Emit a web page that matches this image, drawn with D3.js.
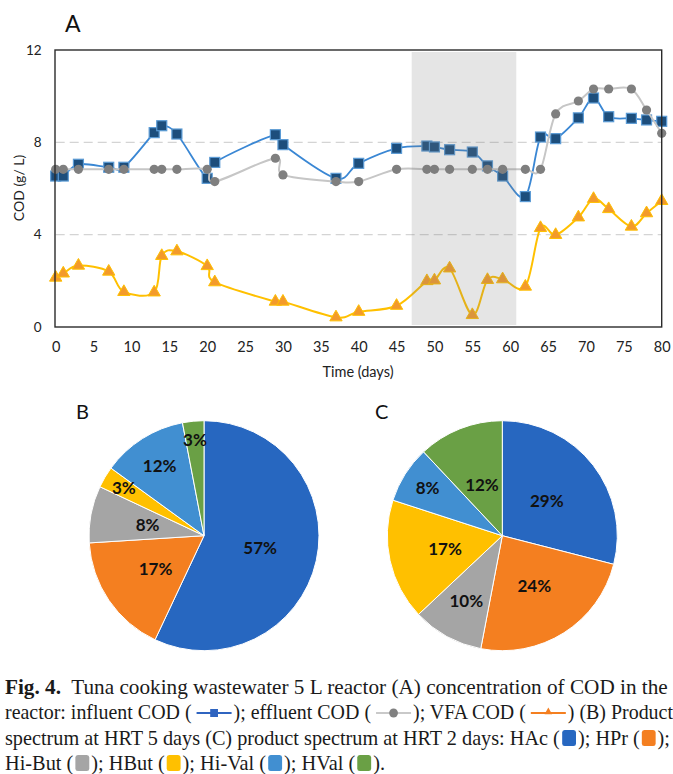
<!DOCTYPE html>
<html>
<head>
<meta charset="utf-8">
<script src="https://cdn.jsdelivr.net/npm/d3@7"></script>
<style>
  html, body { margin: 0; padding: 0; background: #fff; }
  svg { display: block; }
</style>
</head>
<body>
<svg id="fig" width="673" height="774"></svg>
<script>
// Sampling days and COD series (g/L)
const days     = [0, 1, 3, 7, 9, 13, 14, 16, 20, 21, 29, 30, 37, 40, 45, 49, 50, 52, 55, 57, 59, 62, 64, 66, 69, 71, 73, 76, 78, 80];
const influent = [6.54, 6.54, 7.05, 6.92, 6.92, 8.42, 8.72, 8.36, 6.44, 7.13, 8.33, 7.90, 6.44, 7.09, 7.74, 7.84, 7.80, 7.68, 7.58, 6.98, 6.54, 5.65, 8.23, 8.16, 9.06, 9.92, 9.11, 9.04, 8.97, 8.91];
const effluent = [6.83, 6.83, 6.83, 6.83, 6.83, 6.83, 6.83, 6.83, 6.83, 6.30, 7.31, 6.59, 6.30, 6.30, 6.83, 6.83, 6.83, 6.83, 6.83, 6.83, 6.83, 6.83, 6.83, 9.23, 9.79, 10.31, 10.31, 10.31, 9.40, 8.39];
const vfa      = [2.14, 2.32, 2.66, 2.40, 1.52, 1.50, 3.08, 3.28, 2.64, 1.94, 1.10, 1.10, 0.42, 0.66, 0.92, 1.99, 2.02, 2.54, 0.52, 2.04, 2.07, 1.75, 4.29, 3.99, 4.75, 5.55, 5.11, 4.35, 4.93, 5.46];

// Shaded operating period (days)
const shadedPeriod = [47, 60.8];

// Axis ticks
const xTicks = [0, 5, 10, 15, 20, 25, 30, 35, 40, 45, 50, 55, 60, 65, 70, 75, 80];
const yTicks = [0, 4, 8, 12];
const yGrid  = [4, 8];

// Product spectra (%)
const acids   = ["HAc", "HPr", "Hi-But", "HBut", "Hi-Val", "HVal"];
const spectrumB = [57, 17, 8, 3, 12, 3];   // HRT 5 days
const spectrumC = [29, 24, 10, 17, 8, 12]; // HRT 2 days

// Styling
const acidColors = ["#2767c0", "#f47f20", "#a5a5a5", "#ffc000", "#418fd1", "#6aa045"];
const labelRadiusB = [0.50, 0.51, 0.50, 0.81, 0.72, 0.84];
const labelRadiusC = [0.49, 0.52, 0.65, 0.51, 0.77, 0.48];

const svg = d3.select("#fig");
const sans = "Lato, 'Open Sans', sans-serif";

// ---------- Panel A: COD time course ----------
const x = d3.scaleLinear().domain([0, 80]).range([55.7, 661.7]);
const y = d3.scaleLinear().domain([0, 12]).range([327, 50]);

const gA = svg.append("g");

// dashed grid
gA.selectAll("line.grid").data(yGrid).join("line")
  .attr("class", "grid")
  .attr("x1", x.range()[0]).attr("x2", x.range()[1])
  .attr("y1", d => y(d)).attr("y2", d => y(d))
  .attr("stroke", "#d4d4d4").attr("stroke-width", 1.3)
  .attr("stroke-dasharray", "9,5");

const curve = d3.curveCardinal.tension(0);
const lineGen = vals => d3.line().curve(curve)
  .x((d, i) => x(days[i])).y(d => y(d))(vals);

// VFA COD
gA.append("path").attr("d", lineGen(vfa))
  .attr("fill", "none").attr("stroke", "#ffc000").attr("stroke-width", 2);
gA.selectAll("path.tri").data(vfa).join("path")
  .attr("class", "tri")
  .attr("d", d3.symbol().type(d3.symbolTriangle).size(66))
  .attr("transform", (d, i) => `translate(${x(days[i])},${y(d)})`)
  .attr("fill", "#f39a2b").attr("stroke", "#ffc000").attr("stroke-width", 1);

// influent COD
gA.append("path").attr("d", lineGen(influent))
  .attr("fill", "none").attr("stroke", "#3a87d4").attr("stroke-width", 1.8);
gA.selectAll("rect.sq").data(influent).join("rect")
  .attr("class", "sq")
  .attr("x", (d, i) => x(days[i]) - 5).attr("y", d => y(d) - 5)
  .attr("width", 10).attr("height", 10)
  .attr("fill", "#1d4e7c").attr("stroke", "#5b9bd5").attr("stroke-width", 1.2);

// effluent COD
gA.append("path").attr("d", lineGen(effluent))
  .attr("fill", "none").attr("stroke", "#c6c6c6").attr("stroke-width", 2);
gA.selectAll("circle.dot").data(effluent).join("circle")
  .attr("class", "dot")
  .attr("cx", (d, i) => x(days[i])).attr("cy", d => y(d)).attr("r", 4.6)
  .attr("fill", "#7f7f7f");

// shaded period drawn as a translucent band over the series
gA.append("rect")
  .attr("x", x(shadedPeriod[0])).attr("width", x(shadedPeriod[1]) - x(shadedPeriod[0]))
  .attr("y", y.range()[1] + 2).attr("height", y.range()[0] - y.range()[1] - 4)
  .attr("fill", "#7f7f7f").attr("fill-opacity", 0.2);

// frame
gA.append("rect")
  .attr("x", x.range()[0] - 0.7).attr("y", y.range()[1])
  .attr("width", x.range()[1] - x.range()[0] + 0.7).attr("height", y.range()[0] - y.range()[1])
  .attr("fill", "none").attr("stroke", "#2b2b2b").attr("stroke-width", 1.4);

// axes (labels only)
const xAxis = gA.append("g").attr("transform", `translate(0,${y.range()[0]})`)
  .call(d3.axisBottom(x).tickValues(xTicks).tickSize(0).tickPadding(15));
xAxis.select(".domain").remove();
xAxis.selectAll("text").attr("font-family", sans).attr("font-size", 14.5).attr("fill", "#222");

const yAxis = gA.append("g").attr("transform", `translate(${x.range()[0]},0)`)
  .call(d3.axisLeft(y).tickValues(yTicks).tickSize(0).tickPadding(14));
yAxis.select(".domain").remove();
yAxis.selectAll("text").attr("font-family", sans).attr("font-size", 13.5).attr("fill", "#222");

gA.append("text").text("Time (days)")
  .attr("x", 358).attr("y", 377).attr("text-anchor", "middle")
  .attr("font-family", sans).attr("font-size", 14.5).attr("fill", "#222");
gA.append("text").text("COD (g/ L)")
  .attr("transform", "translate(24,188) rotate(-90)").attr("text-anchor", "middle")
  .attr("font-family", sans).attr("font-size", 14).attr("fill", "#222");

svg.append("text").text("A").attr("x", 65).attr("y", 32)
  .attr("font-family", sans).attr("font-size", 23).attr("fill", "#111");

// ---------- Panels B and C: product spectra ----------
function drawPie(cx, cy, values, radii, letter, lx) {
  const r = 115;
  const g = svg.append("g").attr("transform", `translate(${cx},${cy})`);
  const arcs = d3.pie().sort(null).value(d => d)(values);
  const arc = d3.arc().innerRadius(0).outerRadius(r);
  g.selectAll("path").data(arcs).join("path")
    .attr("d", arc)
    .attr("fill", (d, i) => acidColors[i])
    .attr("stroke", "#fff").attr("stroke-width", 1);
  g.selectAll("text").data(arcs).join("text")
    .attr("transform", (d, i) => {
      const a = (d.startAngle + d.endAngle) / 2;
      const rr = r * radii[i];
      return `translate(${Math.sin(a) * rr},${-Math.cos(a) * rr})`;
    })
    .attr("text-anchor", "middle").attr("dy", "0.36em")
    .attr("font-family", sans).attr("font-weight", 700).attr("font-size", 17)
    .attr("fill", "#111")
    .text(d => d.data + "%");
  svg.append("text").text(letter).attr("x", lx).attr("y", 419)
    .attr("font-family", sans).attr("font-size", 20).attr("fill", "#111");
}
drawPie(204, 535.7, spectrumB, labelRadiusB, "B", 76);
drawPie(502.3, 535.7, spectrumC, labelRadiusC, "C", 375);

// ---------- Caption ----------
const serif = "'Liberation Serif', 'DejaVu Serif', serif";
const capLines = [
  [{t: "Fig. 4.", b: true}, {t: "  Tuna cooking wastewater 5 L reactor (A) concentration of COD in the"}],
  [{t: "reactor: influent COD ( "}, {icon: "influent"}, {t: "); effluent COD ( "}, {icon: "effluent"},
   {t: "); VFA COD ( "}, {icon: "vfa"}, {t: ") (B) Product"}],
  [{t: "spectrum at HRT 5 days (C) product spectrum at HRT 2 days: HAc ("}, {sq: 0}, {t: "); HPr ("}, {sq: 1}, {t: ");"}],
  [{t: "Hi-But ("}, {sq: 2}, {t: "); HBut ("}, {sq: 3}, {t: "); Hi-Val ("}, {sq: 4}, {t: "); HVal ("}, {sq: 5}, {t: ")."}]
];
const capBase = [694, 719, 745, 770];
const capWidth = [663, 668, 665, 380];   // set width of each caption line
const capFont = 20.5;

const cap = svg.append("g");
capLines.forEach((segs, li) => {
  const g = cap.append("g");
  let cx = 0;
  const base = capBase[li];
  segs.forEach(s => {
    if (s.t !== undefined) {
      const t = g.append("text").text(s.t)
        .attr("x", cx).attr("y", base)
        .style("white-space", "pre")
        .attr("font-family", serif).attr("font-size", capFont)
        .attr("font-weight", s.b ? 700 : 400).attr("fill", "#1a1a1a");
      cx += t.node().getComputedTextLength();
    } else if (s.sq !== undefined) {
      g.append("rect").attr("x", cx + 2).attr("y", base - 15).attr("width", 14).attr("height", 16)
        .attr("rx", 2.5).attr("fill", acidColors[s.sq]);
      cx += 18;
    } else {
      const w = 36, my = base - 6;
      const col = s.icon === "influent" ? "#2f64c0" : s.icon === "effluent" ? "#c9c9c9" : "#f47f20";
      g.append("line").attr("x1", cx).attr("x2", cx + w).attr("y1", my).attr("y2", my)
        .attr("stroke", col).attr("stroke-width", 2.2);
      const mx = cx + w / 2;
      if (s.icon === "influent") {
        g.append("rect").attr("x", mx - 4).attr("y", my - 4).attr("width", 8).attr("height", 8).attr("fill", "#2f64c0");
      } else if (s.icon === "effluent") {
        g.append("circle").attr("cx", mx).attr("cy", my).attr("r", 4.5).attr("fill", "#808080");
      } else {
        g.append("path").attr("d", d3.symbol().type(d3.symbolTriangle).size(26)())
          .attr("transform", `translate(${mx},${my - 1})`).attr("fill", "#f47f20");
      }
      cx += w + 2;
    }
  });
  g.attr("transform", `translate(5,0) scale(${capWidth[li] / cx},1)`);
});
</script>
</body>
</html>
